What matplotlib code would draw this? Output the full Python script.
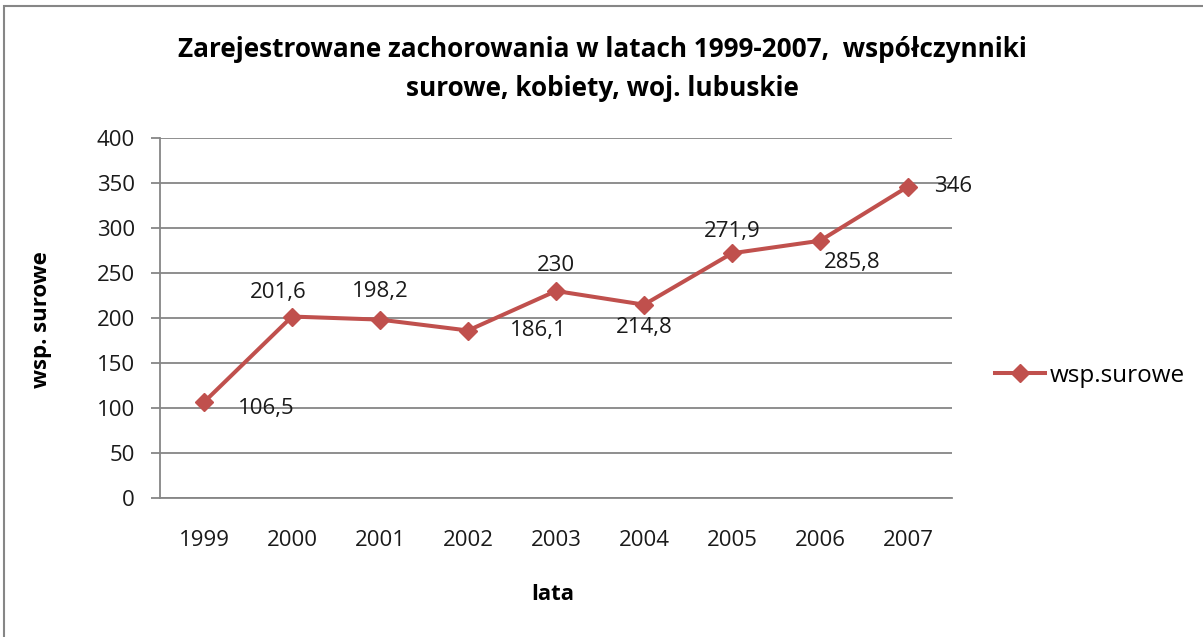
import matplotlib
matplotlib.use('Agg')
import matplotlib.pyplot as plt
from matplotlib.patches import Rectangle

plt.rcParams['font.family'] = ['Open Sans', 'DejaVu Sans']

# data
years = ['1999', '2000', '2001', '2002', '2003', '2004', '2005', '2006', '2007']
values = [106.5, 201.6, 198.2, 186.1, 230, 214.8, 271.9, 285.8, 346]
# label offsets in pixels (dx, dy) relative to each point
label_offsets = [(62, -6), (-14, 24), (0, 28), (70, 0), (0, 25), (0, -23), (0, 22), (32, -22), (45, 0)]

fig = plt.figure(figsize=(12.03, 6.37), dpi=100)
ax = fig.add_axes([160 / 1203, 0.2182, (952 - 160) / 1203, 0.7834 - 0.2182])

line_col = '#C0504D'
grid_col = '#868686'
x = list(range(len(years)))
ax.plot(x, values, color=line_col, lw=2.9, marker='D', markersize=9,
        label='wsp.surowe', zorder=3)

for xi, v, (dx, dy) in zip(x, values, label_offsets):
    txt = ('%g' % v).replace('.', ',')
    ax.annotate(txt, (xi, v), xytext=(dx, dy), textcoords='offset pixels',
                ha='center', va='center', fontsize=16, color='#1a1a1a')

ax.set_xlim(-0.5, 8.5)
ax.set_ylim(0, 400)
ax.set_yticks(range(0, 401, 50))
ax.set_xticks(x)
ax.set_xticklabels(years)
ax.grid(axis='y', color=grid_col, lw=1.3)
ax.set_axisbelow(True)
for s in ['top', 'right']:
    ax.spines[s].set_visible(False)
ax.spines['left'].set_color(grid_col)
ax.spines['bottom'].set_color(grid_col)
ax.spines['left'].set_linewidth(1.3)
ax.spines['bottom'].set_linewidth(1.3)
ax.tick_params(axis='y', length=6.5, color=grid_col, width=1.3, pad=11.5, labelsize=16,
               labelcolor='#1a1a1a')
ax.tick_params(axis='x', length=0, pad=23, labelsize=16, labelcolor='#1a1a1a')

fig.text(553 / 1203, 1 - 594 / 637, 'lata', ha='center', va='center',
         fontsize=16, fontweight='bold')
fig.text(41 / 1203, 1 - 320 / 637, 'wsp. surowe', ha='center', va='center',
         rotation=90, fontsize=16, fontweight='bold')

fig.text(0.5005, 1 - 69 / 637, 'Zarejestrowane zachorowania w latach 1999-2007,  współczynniki\nsurowe, kobiety, woj. lubuskie',
         ha='center', va='center', fontsize=18.8, fontweight='bold', linespacing=1.55)

leg = ax.legend(loc='center left', bbox_to_anchor=((995 - 160) / 792, (498 - 376) / 360),
                frameon=False, fontsize=17.5, handlelength=2.05, handletextpad=0.2,
                borderaxespad=0, borderpad=0)

# outer chart border
fig.patches.append(Rectangle((4 / 1203, -0.1), 1.2, 1 - 6 / 637 + 0.1,
                             transform=fig.transFigure, fill=False,
                             edgecolor='#868686', lw=1.5))

fig.savefig('out.png', dpi=100)
